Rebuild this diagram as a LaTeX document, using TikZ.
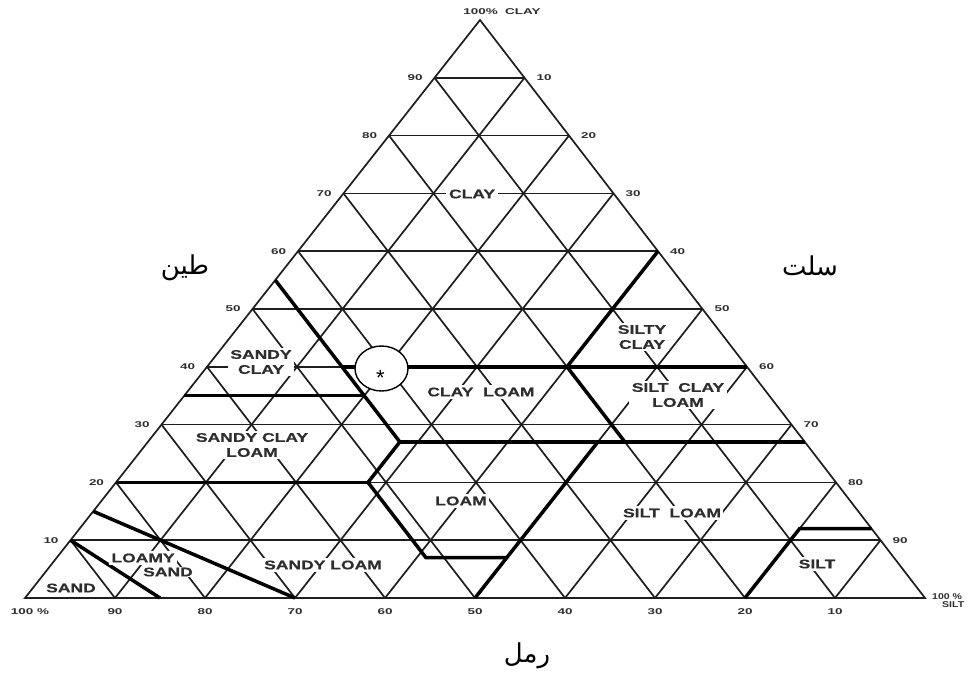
\documentclass[tikz,border=0pt]{standalone}
\usepackage{fontspec}
\setmainfont{Liberation Sans}
\newfontfamily\lblfont{Liberation Sans}[FakeStretch=1.4,FakeBold=0.6]
\newfontfamily\numfont{Liberation Sans}[FakeStretch=1.6]
\newfontfamily\numnarrow{Liberation Sans}[FakeStretch=1.25]
\newfontfamily\arabicfont[Script=Arabic]{DejaVu Sans}
\TeXXeTstate=1
\usetikzlibrary{shapes.geometric}
\definecolor{gridcol}{HTML}{1E1E1E}
\definecolor{txtcol}{HTML}{2E2E2E}
\tikzset{
  gridline/.style={draw=gridcol, line width=1.7pt},
  bound/.style={draw=black, line width=3.5pt},
  region/.style={fill=white, inner sep=2.5pt, text=txtcol, align=center,
    font=\lblfont\bfseries\fontsize{12.5}{15}\selectfont},
  numlbl/.style={inner sep=0pt, text=txtcol,
    font=\numfont\bfseries\fontsize{8.4}{9}\selectfont},
  arab/.style={inner sep=0pt, font=\arabicfont\fontsize{26}{30}\selectfont}
}
\begin{document}
\begin{tikzpicture}[x=1pt, y=-1pt]
\fill[white] (0,0) rectangle (968,675);
\useasboundingbox (0,0) rectangle (968,675);

% ternary scope: (sand %, clay %)
\begin{scope}[shift={(925,598)}, x={(-9pt,0pt)}, y={(-4.45pt,5.78pt)}]
  \foreach \k in {10,20,...,90} {
    \draw[gridline] (100-\k,\k) -- (0,\k);
    \draw[gridline] (\k,0) -- (\k,100-\k);
    \draw[gridline] (100-\k,0) -- (0,100-\k);
  }
  \draw[gridline, line join=miter] (100,0) coordinate (cs) -- (0,0) coordinate (csilt) -- (0,100) coordinate (cclay) -- cycle;

  % texture class boundaries
  \draw[bound] (45,55) -- (45,27) -- (52,20) -- (52,7) -- (43,7);
  \draw[bound] (50,0) -- (23,27);
  \draw[bound] (45,40) -- (0,40);
  \draw[bound] (65,35) -- (45,35);
  \draw[bound] (0,60) -- (20,40) -- (20,27);
  \draw[bound] (45,27) -- (0,27);
  \draw[bound] (80,20) -- (52,20);
  \draw[bound] (85,15) -- (70,0);
  \draw[bound] (90,10) -- (85,0);
  \draw[bound] (0,12) -- (8,12) -- (20,0);

  % axis numbers
  \foreach \c/\t in {10/90,20/80,30/70,40/60,50/50,60/40,70/30,80/20,90/10} {
    \node[numlbl, xshift=-19.5pt] (L\c) at (100-\c,\c) {\c};
    \node[numlbl, xshift=19.5pt] (R\c) at (0,\c) {\t};
  }
  \foreach \s in {10,20,...,90} {
    \node[numlbl, yshift=-14pt] (B\s) at (\s,0) {\s};
  }
  \node[numlbl, xshift=5pt, yshift=-14pt] (B100) at (100,0) {100 \%};
\end{scope}

\node[numlbl] (top) at (502,12) {100\%\ \ CLAY};
\node[numlbl, font=\numnarrow\bfseries\fontsize{8.4}{9}\selectfont, anchor=west] (rsilt1) at (932,597) {100 \%};
\node[numlbl, font=\numnarrow\bfseries\fontsize{8.4}{9}\selectfont, anchor=west] (rsilt2) at (942,605) {SILT};

% region labels
\node[region] (clay) at (472,194) {CLAY};
\node[region] (siltyclay) at (642,337) {SILTY\\CLAY};
\node[region] (siltclayloam) at (678,395) {SILT\ \ CLAY\\LOAM};
\node[region] (clayloam) at (481,392) {CLAY\ \ LOAM};
\node[region] (sandyclay) at (261,362) {SANDY\\CLAY};
\node[region] (sandyclayloam) at (252,445) {SANDY CLAY\\LOAM};
\node[region] (loam) at (461,501) {LOAM};
\node[region] (siltloam) at (672,513) {SILT\ \ LOAM};
\node[region] (silt) at (817,564) {SILT};
\node[region] (sandyloam) at (323,565) {SANDY LOAM};
\node[region] (loamy) at (143,558) {LOAMY};
\node[region, inner ysep=1pt] (lsand) at (168,572) {SAND};
\node[region, inner ysep=1pt] (sand) at (71,588) {SAND};

% marker
\node[draw=black, fill=white, ellipse, line width=1.4pt, inner sep=0pt,
      minimum width=53pt, minimum height=45pt] (mark) at (381.5,368.5) {};
\node[inner sep=0pt, font=\fontsize{22}{22}\selectfont] (star) at (380.5,377.5) {*};

% Arabic axis names
\node[arab] (tin) at (185,268) {\beginR طين\endR};
\node[arab] (silt ar) at (810,266) {\beginR سلت\endR};
\node[arab] (raml) at (527,656) {\beginR رمل\endR};
\end{tikzpicture}
\end{document}
